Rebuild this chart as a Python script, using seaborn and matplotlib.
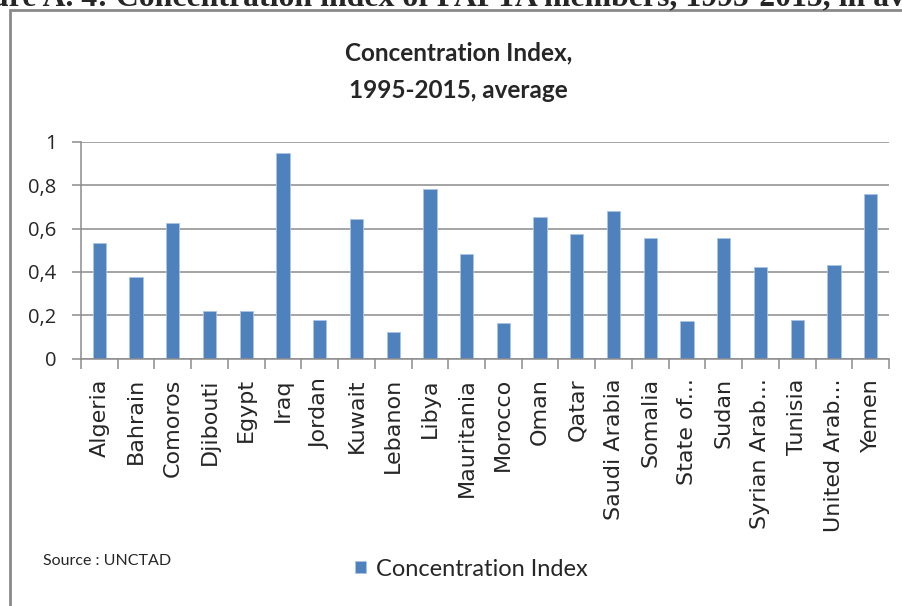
import numpy as np
import pandas as pd
import matplotlib
matplotlib.use("Agg")
import matplotlib.pyplot as plt
import seaborn as sns
from matplotlib.patches import Rectangle
from matplotlib.ticker import FixedLocator

# ==============================
# Data
# ==============================
countries = ["Algeria", "Bahrain", "Comoros", "Djibouti", "Egypt", "Iraq",
             "Jordan", "Kuwait", "Lebanon", "Libya", "Mauritania", "Morocco",
             "Oman", "Qatar", "Saudi Arabia", "Somalia", "State of...",
             "Sudan", "Syrian Arab...", "Tunisia", "United Arab...", "Yemen"]
conc_index = [0.535, 0.376, 0.624, 0.218, 0.218, 0.949,
              0.178, 0.642, 0.122, 0.783, 0.484, 0.166,
              0.654, 0.573, 0.682, 0.555, 0.172,
              0.555, 0.421, 0.178, 0.433, 0.758]
y_ticks = [0, 0.2, 0.4, 0.6, 0.8, 1.0]
y_tick_labels = ["0", "0,2", "0,4", "0,6", "0,8", "1"]
series_name = "Concentration Index"
chart_title = "Concentration Index,\n1995-2015, average"
caption = "Figure A. 4: Concentration index of PAFTA members, 1995-2015, in average"
source = "Source : UNCTAD"

df = pd.DataFrame({"country": countries, "value": conc_index})

# ==============================
# Style
# ==============================
sns.set_style("white")
plt.rcParams["font.family"] = ["DejaVu Sans"]
BAR = "#4F81BD"
GRID = "#8C8C8C"
NARROW = ["Lato", "DejaVu Sans"]

fig = plt.figure(figsize=(9.03, 6.06), dpi=100)
ax = fig.add_axes([81 / 903, 1 - 358.7 / 606, 808 / 903, 217 / 606])

sns.barplot(data=df, x="country", y="value", color=BAR, width=0.36,
            saturation=1, edgecolor="#A9C4E6", linewidth=0.6,
            label=series_name, ax=ax)

# axes look (Excel-like)
ax.set_xlim(-0.5, len(countries) - 0.5)
ax.set_yticks(y_ticks, y_tick_labels, fontsize=14.5, family=["Open Sans", "DejaVu Sans"])
ax.set_ylim(0, 1)
ax.yaxis.grid(True, color=GRID, linewidth=1.1)
ax.set_axisbelow(True)
ax.tick_params(axis="y", length=6.5, width=1.1, color=GRID, pad=11, left=True)
ax.xaxis.set_minor_locator(FixedLocator(np.arange(-0.5, len(countries), 1.0)))
ax.tick_params(axis="x", which="major", length=0, pad=14, labelsize=16,
               rotation=90)
ax.tick_params(axis="x", which="minor", length=7, width=1.1, color=GRID,
               bottom=True)
for side in ["top", "right"]:
    ax.spines[side].set_visible(False)
for side in ["left", "bottom"]:
    ax.spines[side].set_color(GRID)
    ax.spines[side].set_linewidth(1.1)
ax.set_xlabel("")
ax.set_ylabel("")
if ax.legend_:
    ax.legend_.remove()

# chart frame
fig.patches.append(Rectangle((10 / 903, -0.1), 1.1, 1 - 10 / 606 + 0.1,
                             transform=fig.transFigure, fill=False,
                             edgecolor="#8A8A8A", linewidth=2))

# caption of the page, cut off at the top as in the source
fig.text(-53 / 903, 1 - 6 / 606, caption, ha="left", va="baseline",
         fontsize=22.9, fontweight="bold", family="Liberation Serif")

# title
fig.text(0.508, 1 - 72 / 606, chart_title, ha="center", va="center",
         fontsize=17.5, fontweight="bold", linespacing=1.75, family=NARROW)

# source and legend
fig.text(43 / 903, 1 - 561 / 606, source, fontsize=11.5, va="center",
         family=NARROW)
handles, labels = ax.get_legend_handles_labels()
fig.legend(handles[:1], [series_name], loc="center left",
           bbox_to_anchor=(334 / 903, 1 - 569 / 606), frameon=False,
           handlelength=0.45, handleheight=0.45, handletextpad=0.45,
           prop={"family": NARROW, "size": 17})

fig.savefig("out.png", dpi=100)
